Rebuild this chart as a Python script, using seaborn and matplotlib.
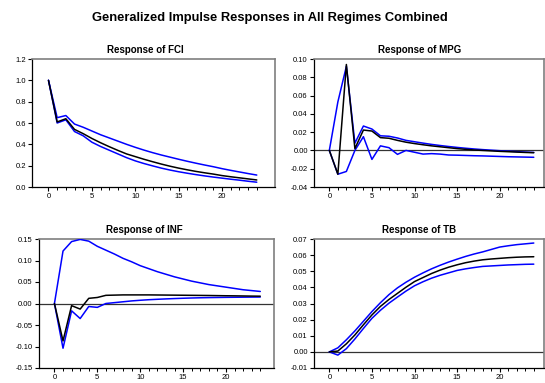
import numpy as np
import pandas as pd
import matplotlib
matplotlib.use("Agg")
import matplotlib.pyplot as plt
from matplotlib.ticker import FixedLocator, FormatStrFormatter, MultipleLocator
import seaborn as sns

periods = list(range(25))

fci_mid = [1.0, 0.61, 0.64, 0.54, 0.50, 0.455, 0.415, 0.378, 0.343, 0.31, 0.285, 0.26, 0.237,
           0.215, 0.195, 0.177, 0.161, 0.146, 0.133, 0.121, 0.107, 0.096, 0.086, 0.076, 0.066]
fci_up = [1.0, 0.65, 0.67, 0.59, 0.56, 0.525, 0.49, 0.46, 0.43, 0.40, 0.372, 0.346, 0.322,
          0.30, 0.28, 0.26, 0.241, 0.223, 0.206, 0.19, 0.172, 0.156, 0.141, 0.126, 0.112]
fci_lo = [1.0, 0.60, 0.63, 0.52, 0.48, 0.42, 0.38, 0.345, 0.31, 0.275, 0.245, 0.22, 0.198,
          0.177, 0.159, 0.143, 0.129, 0.116, 0.104, 0.093, 0.083, 0.073, 0.064, 0.054, 0.045]

mpg_mid = [0.0, -0.026, 0.094, 0.002, 0.0223, 0.0212, 0.014, 0.0133, 0.011, 0.009, 0.0075, 0.0062,
           0.005, 0.004, 0.003, 0.002, 0.0012, 0.0005, 0.0, -0.0005, -0.001, -0.0014, -0.0018,
           -0.0022, -0.0025]
mpg_up = [0.0, 0.053, 0.092, 0.008, 0.0267, 0.0234, 0.016, 0.0155, 0.0136, 0.011, 0.0095, 0.008,
          0.0066, 0.0054, 0.0043, 0.0033, 0.0024, 0.0016, 0.0009, 0.0003, -0.0003, -0.0008,
          -0.0013, -0.0018, -0.0022]
mpg_lo = [0.0, -0.026, -0.023, 0.0, 0.015, -0.0098, 0.005, 0.003, -0.0043, 0.0, -0.002, -0.004,
          -0.0035, -0.004, -0.005, -0.0052, -0.0055, -0.0058, -0.006, -0.0063, -0.0066, -0.0069,
          -0.0071, -0.0073, -0.0075]

inf_mid = [0.0, -0.087, -0.005, -0.013, 0.012, 0.014, 0.019, 0.0195, 0.02, 0.02, 0.02, 0.02,
           0.0198, 0.0196, 0.0194, 0.0192, 0.019, 0.0188, 0.0186, 0.0183, 0.018, 0.0178, 0.0175,
           0.0172, 0.017]
inf_up = [0.0, 0.122, 0.144, 0.149, 0.145, 0.133, 0.124, 0.115, 0.105, 0.097, 0.088, 0.081, 0.074,
          0.068, 0.062, 0.057, 0.052, 0.048, 0.044, 0.041, 0.038, 0.035, 0.032, 0.030, 0.028]
inf_lo = [0.0, -0.104, -0.017, -0.035, -0.007, -0.009, 0.0, 0.002, 0.004, 0.006, 0.0075, 0.0088,
          0.0098, 0.0107, 0.0115, 0.0122, 0.0128, 0.0133, 0.0137, 0.014, 0.0143, 0.0145, 0.0147,
          0.0149, 0.015]

tb_mid = [0.0, 0.0005, 0.005, 0.0105, 0.0168, 0.0229, 0.0282, 0.0325, 0.0363, 0.0401, 0.0436,
          0.0461, 0.0486, 0.0507, 0.0525, 0.054, 0.0553, 0.0563, 0.0571, 0.0576, 0.058, 0.0584,
          0.0587, 0.0589, 0.059]
tb_up = [0.0, 0.0025, 0.0075, 0.013, 0.019, 0.025, 0.0305, 0.0355, 0.0397, 0.0432, 0.0463, 0.049,
         0.0515, 0.0537, 0.0557, 0.0575, 0.0592, 0.0607, 0.062, 0.0635, 0.065, 0.0658, 0.0665,
         0.067, 0.0675]
tb_lo = [0.0, -0.002, 0.002, 0.008, 0.0145, 0.0208, 0.0258, 0.0302, 0.034, 0.0377, 0.041, 0.0435,
         0.0457, 0.0475, 0.049, 0.0505, 0.0515, 0.0523, 0.053, 0.0533, 0.0536, 0.0539, 0.0541,
         0.0543, 0.0544]

x_major = [0, 5, 10, 15, 20]
main_title = "Generalized Impulse Responses in All Regimes Combined"
panel_titles = ["Response of FCI", "Response of MPG", "Response of INF", "Response of TB"]

sns.set_theme(style="white")
plt.rcParams['font.family'] = ['Liberation Sans Narrow', 'Liberation Sans', 'DejaVu Sans']
plt.rcParams['text.color'] = 'black'

W, H = 545, 383
fig = plt.figure(figsize=(W / 100, H / 100), dpi=100)

def rect(l, r, t, b):
    return [l / W, 1 - b / H, (r - l) / W, (b - t) / H]

panels = [
    dict(rect=rect(32, 275, 59, 187), mid=fci_mid, up=fci_up, lo=fci_lo, tx=0.467,
         ylim=(0.0, 1.2), ystep=0.2, fmt='%.1f', xlim=(-1.9, 26.1), zero=False),
    dict(rect=rect(314, 544, 59, 187), mid=mpg_mid, up=mpg_up, lo=mpg_lo, tx=0.459,
         ylim=(-0.04, 0.10), ystep=0.02, fmt='%.2f', xlim=(-1.8, 25.2), zero=True),
    dict(rect=rect(39, 274, 239, 368), mid=inf_mid, up=inf_up, lo=inf_lo, tx=0.449,
         ylim=(-0.15, 0.15), ystep=0.05, fmt='%.2f', xlim=(-1.8, 25.6), zero=True),
    dict(rect=rect(314, 544, 239, 368), mid=tb_mid, up=tb_up, lo=tb_lo, tx=0.458,
         ylim=(-0.01, 0.07), ystep=0.01, fmt='%.2f', xlim=(-1.8, 25.2), zero=True),
]

for p, title in zip(panels, panel_titles):
    ax = fig.add_axes(p['rect'])
    df = pd.DataFrame({
        'period': periods * 3,
        'value': p['up'] + p['mid'] + p['lo'],
        'series': ['up'] * 25 + ['mid'] * 25 + ['lo'] * 25,
    })
    if p['zero']:
        ax.axhline(0, color='#333333', lw=0.9, zorder=1)
    sns.lineplot(data=df, x='period', y='value', hue='series',
                 palette={'up': '#0000FF', 'mid': '#000000', 'lo': '#0000FF'},
                 hue_order=['up', 'lo', 'mid'], lw=1.1, legend=False, ax=ax,
                 estimator=None, sort=False, zorder=3)
    ax.set_xlim(*p['xlim'])
    ax.set_ylim(*p['ylim'])
    ax.set_xlabel('')
    ax.set_ylabel('')
    ax.xaxis.set_major_locator(FixedLocator(x_major))
    ax.xaxis.set_minor_locator(FixedLocator(periods))
    ax.yaxis.set_major_locator(MultipleLocator(p['ystep']))
    ax.yaxis.set_major_formatter(FormatStrFormatter(p['fmt']))
    ax.tick_params(axis='both', which='major', direction='out', length=3, width=0.8,
                   labelsize=5.5, pad=1.5, colors='#000000', left=True, bottom=True)
    ax.tick_params(axis='x', which='minor', direction='out', length=2, width=0.7,
                   bottom=True, colors='#000000')
    for s in ['left', 'bottom']:
        ax.spines[s].set_color('#000000')
        ax.spines[s].set_linewidth(0.9)
    for s in ['top', 'right']:
        ax.spines[s].set_color('#7f7f7f')
        ax.spines[s].set_linewidth(1.2)
    ax.set_title(title, fontsize=7, fontweight='bold', pad=4, x=p['tx'], color='black')

fig.text(0.496, 1 - 18 / H, main_title, ha='center', va='center', fontsize=9.3,
         fontweight='bold', color='black')

fig.savefig('out.png', dpi=100)
